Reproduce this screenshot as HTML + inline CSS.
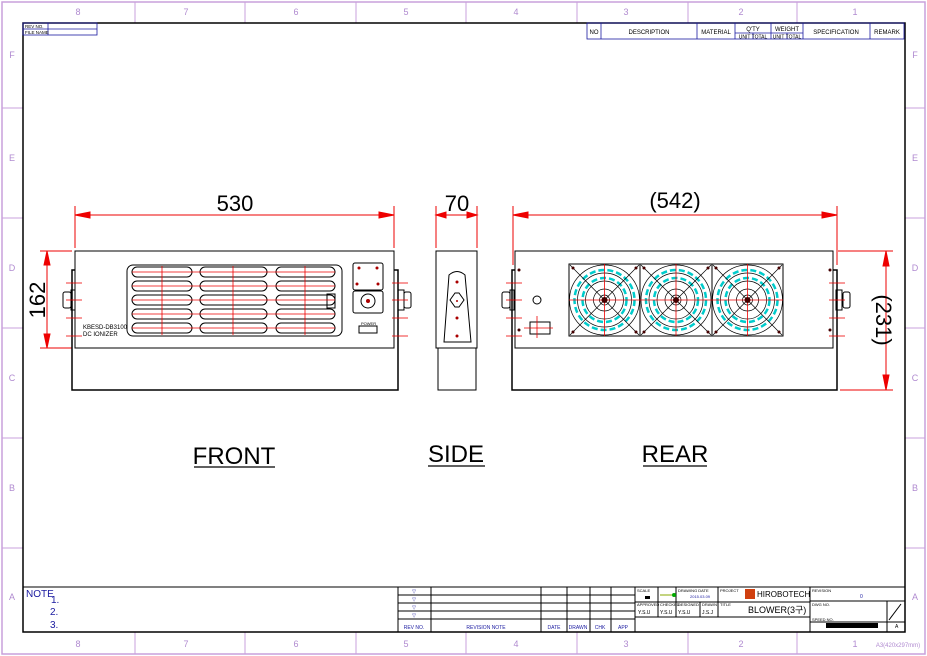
<!DOCTYPE html>
<html><head><meta charset="utf-8"><style>
body{margin:0;background:#fff}
svg{display:block;font-family:"Liberation Sans",sans-serif}
</style></head><body>
<svg width="927" height="656" viewBox="0 0 927 656" xmlns="http://www.w3.org/2000/svg">
<rect x="0" y="0" width="927" height="656" fill="#fff"/>
<!-- outer border -->
<rect x="2" y="2" width="923" height="652" fill="none" stroke="#c9a0dc" stroke-width="1.5"/>
<g stroke="#c9a0dc" stroke-width="1">
<line x1="135" y1="2" x2="135" y2="23"/><line x1="245" y1="2" x2="245" y2="23"/><line x1="356" y1="2" x2="356" y2="23"/><line x1="466" y1="2" x2="466" y2="23"/><line x1="577" y1="2" x2="577" y2="23"/><line x1="688" y1="2" x2="688" y2="23"/><line x1="797" y1="2" x2="797" y2="23"/>
<line x1="135" y1="632" x2="135" y2="654"/><line x1="245" y1="632" x2="245" y2="654"/><line x1="356" y1="632" x2="356" y2="654"/><line x1="466" y1="632" x2="466" y2="654"/><line x1="577" y1="632" x2="577" y2="654"/><line x1="688" y1="632" x2="688" y2="654"/><line x1="797" y1="632" x2="797" y2="654"/>
<line x1="2" y1="108" x2="23" y2="108"/><line x1="2" y1="218" x2="23" y2="218"/><line x1="2" y1="328" x2="23" y2="328"/><line x1="2" y1="438" x2="23" y2="438"/><line x1="2" y1="548" x2="23" y2="548"/>
<line x1="905" y1="108" x2="925" y2="108"/><line x1="905" y1="218" x2="925" y2="218"/><line x1="905" y1="328" x2="925" y2="328"/><line x1="905" y1="438" x2="925" y2="438"/><line x1="905" y1="548" x2="925" y2="548"/>
</g>
<g fill="#b08ad0" font-size="9" text-anchor="middle">
<text x="78" y="15">8</text><text x="186" y="15">7</text><text x="296" y="15">6</text><text x="406" y="15">5</text><text x="516" y="15">4</text><text x="626" y="15">3</text><text x="741" y="15">2</text><text x="855" y="15">1</text>
<text x="78" y="647">8</text><text x="186" y="647">7</text><text x="296" y="647">6</text><text x="406" y="647">5</text><text x="516" y="647">4</text><text x="626" y="647">3</text><text x="741" y="647">2</text><text x="855" y="647">1</text>
<text x="12" y="58">F</text><text x="12" y="161">E</text><text x="12" y="271">D</text><text x="12" y="381">C</text><text x="12" y="491">B</text><text x="12" y="600">A</text>
<text x="915" y="58">F</text><text x="915" y="161">E</text><text x="915" y="271">D</text><text x="915" y="381">C</text><text x="915" y="491">B</text><text x="915" y="600">A</text>
<text x="898" y="647" font-size="6">A3(420x297mm)</text>
</g>
<!-- inner frame -->
<rect x="23" y="23" width="882" height="609" fill="none" stroke="#000" stroke-width="1.5"/>
<!-- top-left box -->
<g stroke="#1a1aa0" stroke-width="0.8" fill="none">
<rect x="23" y="23" width="74" height="12"/><line x1="23" y1="29" x2="97" y2="29"/><line x1="48" y1="23" x2="48" y2="35"/>
</g>
<g font-size="4.5" fill="#000"><text x="25" y="28">REV NO.</text><text x="25" y="34">FILE NAME</text></g>
<!-- top-right title -->
<g stroke="#1a1aa0" stroke-width="0.8" fill="none">
<rect x="587" y="23" width="317" height="16"/>
<line x1="601" y1="23" x2="601" y2="39"/><line x1="697" y1="23" x2="697" y2="39"/><line x1="735" y1="23" x2="735" y2="39"/><line x1="771" y1="23" x2="771" y2="39"/><line x1="803" y1="23" x2="803" y2="39"/><line x1="870" y1="23" x2="870" y2="39"/>
<line x1="735" y1="33" x2="803" y2="33"/><line x1="753" y1="33" x2="753" y2="39"/><line x1="787" y1="33" x2="787" y2="39"/>
</g>
<g font-size="6" fill="#000" text-anchor="middle">
<text x="594" y="34">NO</text><text x="649" y="34">DESCRIPTION</text><text x="716" y="34">MATERIAL</text><text x="753" y="31">Q'TY</text><text x="787" y="31">WEIGHT</text><text x="836" y="34">SPECIFICATION</text><text x="887" y="34">REMARK</text>
<text x="753" y="38.5" font-size="5">UNIT TOTAL</text><text x="787" y="38.5" font-size="5">UNIT TOTAL</text>
</g>

<!-- dimensions -->
<g stroke="#e00" stroke-width="1" fill="#e00">
<line x1="75" y1="206" x2="75" y2="248"/><line x1="394" y1="206" x2="394" y2="248"/>
<line x1="75" y1="215" x2="394" y2="215"/><polygon points="75,215 90,212 90,218"/><polygon points="394,215 379,212 379,218"/>
<line x1="436" y1="206" x2="436" y2="248"/><line x1="477" y1="206" x2="477" y2="248"/>
<line x1="436" y1="215" x2="477" y2="215"/><polygon points="436,215 446,212 446,218"/><polygon points="477,215 467,212 467,218"/>
<line x1="513" y1="206" x2="513" y2="265"/><line x1="837" y1="206" x2="837" y2="265"/>
<line x1="513" y1="215" x2="837" y2="215"/><polygon points="513,215 528,212 528,218"/><polygon points="837,215 822,212 822,218"/>
<line x1="40" y1="251" x2="72" y2="251"/><line x1="40" y1="348" x2="72" y2="348"/>
<line x1="47" y1="251" x2="47" y2="348"/><polygon points="47,251 44,265 50,265"/><polygon points="47,348 44,334 50,334"/>
<line x1="838" y1="251" x2="893" y2="251"/><line x1="840" y1="390" x2="893" y2="390"/>
<line x1="886" y1="251" x2="886" y2="390"/><polygon points="886,251 883,266 889,266"/><polygon points="886,390 883,375 889,375"/>
</g>
<g font-size="22" fill="#000" text-anchor="middle">
<text x="235" y="211">530</text><text x="457" y="211">70</text><text x="675" y="208">(542)</text>
<text transform="translate(45,300) rotate(-90)">162</text>
<text transform="translate(876,320) rotate(90)">(231)</text>
</g>

<!-- FRONT view -->
<g stroke="#000" fill="none" stroke-width="1">
<rect x="72" y="270" width="326" height="120" stroke-width="1.5"/>
<rect x="75" y="251" width="319" height="97" fill="#fff"/>
<rect x="127" y="265" width="215" height="71" rx="6"/>
<rect x="132" y="267" width="60" height="10" rx="5"/><rect x="200" y="267" width="67" height="10" rx="5"/><rect x="276" y="267" width="59" height="10" rx="5"/>
<rect x="132" y="281" width="60" height="10" rx="5"/><rect x="200" y="281" width="67" height="10" rx="5"/><rect x="276" y="281" width="59" height="10" rx="5"/>
<rect x="132" y="295" width="60" height="10" rx="5"/><rect x="200" y="295" width="67" height="10" rx="5"/><rect x="276" y="295" width="59" height="10" rx="5"/>
<rect x="132" y="309" width="60" height="10" rx="5"/><rect x="200" y="309" width="67" height="10" rx="5"/><rect x="276" y="309" width="59" height="10" rx="5"/>
<rect x="132" y="323" width="60" height="10" rx="5"/><rect x="200" y="323" width="67" height="10" rx="5"/><rect x="276" y="323" width="59" height="10" rx="5"/>
<rect x="327" y="294" width="8" height="14"/>
<rect x="353" y="263" width="30" height="27" rx="2"/><rect x="353" y="291" width="30" height="22" rx="2"/>
<circle cx="368" cy="301" r="7"/>
<rect x="359" y="326" width="18" height="7"/>
<rect x="63" y="292" width="8" height="16" rx="2"/><rect x="71" y="290" width="4" height="20"/>
<rect x="404" y="292" width="7" height="16" rx="2"/><rect x="398" y="290" width="6" height="20"/>
</g>
<g stroke="#e00" stroke-width="0.8">
<line x1="162" y1="266" x2="162" y2="335"/><line x1="233" y1="266" x2="233" y2="335"/><line x1="305" y1="266" x2="305" y2="335"/>
<line x1="132" y1="272" x2="335" y2="272"/><line x1="132" y1="286" x2="335" y2="286"/><line x1="132" y1="300" x2="335" y2="300"/><line x1="132" y1="314" x2="335" y2="314"/><line x1="132" y1="328" x2="335" y2="328"/>
<line x1="66" y1="283" x2="82" y2="283"/><line x1="66" y1="300" x2="82" y2="300"/><line x1="66" y1="318" x2="82" y2="318"/><line x1="66" y1="336" x2="82" y2="336"/>
<line x1="392" y1="283" x2="408" y2="283"/><line x1="392" y1="300" x2="408" y2="300"/><line x1="392" y1="318" x2="408" y2="318"/><line x1="392" y1="336" x2="408" y2="336"/>
</g>
<g fill="#a00"><circle cx="359" cy="268" r="1.5"/><circle cx="377" cy="268" r="1.5"/><circle cx="357" cy="284" r="1.5"/><circle cx="378" cy="284" r="1.5"/><circle cx="368" cy="301" r="2"/></g>
<g font-size="6" fill="#000"><text x="83" y="329">KBESD-DB3100</text><text x="83" y="336">DC IONIZER</text><text x="361" y="325" font-size="4">POWER</text></g>

<!-- SIDE view -->
<g stroke="#000" fill="none" stroke-width="1">
<rect x="438" y="270" width="38" height="120"/>
<rect x="436" y="251" width="41" height="97" fill="#fff"/>
<path d="M444,342 L449,275 Q457,268 465,275 L471,342 Z"/>
<path d="M450,300 L455,293 L459,293 L464,300 L459,307 L455,307 Z"/>
</g>
<g fill="#a00"><circle cx="457" cy="282" r="1.5"/><circle cx="457" cy="318" r="1.5"/><circle cx="457" cy="336" r="1.5"/><circle cx="457" cy="301" r="1"/></g>

<!-- REAR view -->
<g stroke="#000" fill="none" stroke-width="1">
<rect x="512" y="270" width="325" height="120" stroke-width="1.5"/>
<rect x="515" y="251" width="318" height="97" fill="#fff"/>
<rect x="569" y="264" width="214" height="72"/>
<line x1="640" y1="264" x2="640" y2="336"/><line x1="712" y1="264" x2="712" y2="336"/>
<rect x="502" y="292" width="8" height="16" rx="2"/><rect x="510" y="290" width="4" height="20"/>
<rect x="843" y="292" width="7" height="16" rx="2"/><rect x="836" y="290" width="6" height="20"/>
<rect x="530" y="322" width="20" height="12"/>
<circle cx="537" cy="300" r="4"/>
</g>
<g id="fans">
<g stroke="#0cc" stroke-width="2.5" fill="none" stroke-dasharray="6 3">
<circle cx="604.5" cy="300" r="30"/><circle cx="676" cy="300" r="30"/><circle cx="747.5" cy="300" r="30"/>
<circle cx="604.5" cy="300" r="22"/><circle cx="676" cy="300" r="22"/><circle cx="747.5" cy="300" r="22"/>
</g>
<g stroke="#000" stroke-width="0.7" fill="none">
<circle cx="604.5" cy="300" r="35"/><circle cx="604.5" cy="300" r="27"/><circle cx="604.5" cy="300" r="19"/><circle cx="604.5" cy="300" r="11"/><circle cx="604.5" cy="300" r="5"/>
<circle cx="676" cy="300" r="35"/><circle cx="676" cy="300" r="27"/><circle cx="676" cy="300" r="19"/><circle cx="676" cy="300" r="11"/><circle cx="676" cy="300" r="5"/>
<circle cx="747.5" cy="300" r="35"/><circle cx="747.5" cy="300" r="27"/><circle cx="747.5" cy="300" r="19"/><circle cx="747.5" cy="300" r="11"/><circle cx="747.5" cy="300" r="5"/>
<line x1="570" y1="265" x2="639" y2="335"/><line x1="639" y1="265" x2="570" y2="335"/>
<line x1="641" y1="265" x2="711" y2="335"/><line x1="711" y1="265" x2="641" y2="335"/>
<line x1="713" y1="265" x2="782" y2="335"/><line x1="782" y1="265" x2="713" y2="335"/>
</g>
<g stroke="#e00" stroke-width="0.8">
<line x1="569" y1="300" x2="783" y2="300"/>
<line x1="604.5" y1="264" x2="604.5" y2="336"/><line x1="676" y1="264" x2="676" y2="336"/><line x1="747.5" y1="264" x2="747.5" y2="336"/>
<line x1="506" y1="283" x2="522" y2="283"/><line x1="506" y1="300" x2="522" y2="300"/><line x1="506" y1="318" x2="522" y2="318"/><line x1="506" y1="336" x2="522" y2="336"/>
<line x1="829" y1="283" x2="845" y2="283"/><line x1="829" y1="300" x2="845" y2="300"/><line x1="829" y1="318" x2="845" y2="318"/><line x1="829" y1="336" x2="845" y2="336"/>
<line x1="537" y1="316" x2="537" y2="338"/><line x1="524" y1="328" x2="553" y2="328"/>
</g>
<g fill="#400">
<circle cx="604.5" cy="300" r="3"/><circle cx="676" cy="300" r="3"/><circle cx="747.5" cy="300" r="3"/>
<circle cx="573" cy="268" r="1.5"/><circle cx="636" cy="268" r="1.5"/><circle cx="573" cy="332" r="1.5"/><circle cx="636" cy="332" r="1.5"/>
<circle cx="644" cy="268" r="1.5"/><circle cx="708" cy="268" r="1.5"/><circle cx="644" cy="332" r="1.5"/><circle cx="708" cy="332" r="1.5"/>
<circle cx="716" cy="268" r="1.5"/><circle cx="779" cy="268" r="1.5"/><circle cx="716" cy="332" r="1.5"/><circle cx="779" cy="332" r="1.5"/>
<circle cx="519" cy="270" r="1.5"/><circle cx="519" cy="330" r="1.5"/><circle cx="830" cy="270" r="1.5"/><circle cx="830" cy="330" r="1.5"/>
</g>
</g>

<!-- view labels -->
<g font-size="24" fill="#000" text-anchor="middle">
<text x="234" y="464">FRONT</text><text x="456" y="462">SIDE</text><text x="675" y="462">REAR</text>
</g>
<g stroke="#000" stroke-width="1.2">
<line x1="194" y1="467" x2="275" y2="467"/><line x1="428" y1="466" x2="485" y2="466"/><line x1="643" y1="466" x2="707" y2="466"/>
</g>

<!-- bottom title block -->
<g stroke="#000" stroke-width="1" fill="none">
<line x1="23" y1="587" x2="905" y2="587"/>
<line x1="398" y1="587" x2="398" y2="632"/><line x1="431" y1="587" x2="431" y2="632"/>
<line x1="541" y1="587" x2="541" y2="632"/><line x1="567" y1="587" x2="567" y2="632"/><line x1="590" y1="587" x2="590" y2="632"/><line x1="611" y1="587" x2="611" y2="632"/><line x1="635" y1="587" x2="635" y2="632"/>
<line x1="398" y1="595" x2="635" y2="595"/><line x1="398" y1="603" x2="635" y2="603"/><line x1="398" y1="611" x2="635" y2="611"/><line x1="398" y1="619" x2="635" y2="619"/>
<line x1="635" y1="602" x2="810" y2="602"/><line x1="635" y1="617" x2="810" y2="617"/>
<line x1="810" y1="587" x2="810" y2="632"/><line x1="810" y1="601" x2="905" y2="601"/><line x1="810" y1="622" x2="905" y2="622"/>
<line x1="887" y1="601" x2="887" y2="632"/>
<line x1="658" y1="587" x2="658" y2="617"/><line x1="676" y1="587" x2="676" y2="617"/><line x1="700" y1="602" x2="700" y2="617"/><line x1="718" y1="587" x2="718" y2="617"/>
<line x1="889" y1="620" x2="901" y2="604"/>
</g>
<rect x="826" y="623" width="52" height="5" fill="#000"/>
<g fill="#1a1aa0" font-size="10">
<text x="26" y="597">NOTE</text><text x="51" y="603">1.</text><text x="50" y="615">2.</text><text x="50" y="628">3.</text>
</g>
<g fill="#1a1aa0" font-size="5" text-anchor="middle">
<text x="414" y="593">▽</text><text x="414" y="601">▽</text><text x="414" y="609">▽</text><text x="414" y="617">▽</text>
<text x="414" y="629">REV NO.</text><text x="486" y="629">REVISION NOTE</text><text x="554" y="629">DATE</text><text x="578" y="629">DRAWN</text><text x="600" y="629">CHK</text><text x="623" y="629">APP</text>
</g>
<g fill="#000" font-size="4" >
<text x="637" y="592">SCALE</text><text x="678" y="592">DRAWING DATE</text><text x="720" y="592">PROJECT</text><text x="812" y="592">REVISION</text>
<text x="637" y="606">APPROVED</text><text x="660" y="606">CHECKED</text><text x="678" y="606">DESIGNED</text><text x="702" y="606">DRAWN</text><text x="720" y="606">TITLE</text><text x="812" y="606">DWG NO.</text><text x="812" y="621">SPEED NO.</text>
<text x="638" y="614" font-size="5">Y.S.U</text><text x="660" y="614" font-size="5">Y.S.U</text><text x="678" y="614" font-size="5">Y.S.U</text><text x="702" y="614" font-size="5">J.S.J</text>
<text x="690" y="598" fill="#1a1aa0">2015.03.09</text>
</g>
<rect x="645" y="596" width="5" height="3" fill="#000"/>
<line x1="660" y1="595" x2="672" y2="595" stroke="#8a0" stroke-width="1"/><circle cx="674" cy="595" r="2" fill="#0a0"/>
<rect x="745" y="589" width="10" height="10" fill="#d04010"/>
<text x="757" y="597" font-size="8" fill="#000">HIROBOTECH</text>
<text x="748" y="613" font-size="9" fill="#000">BLOWER(3구)</text>
<text x="860" y="598" font-size="5" fill="#1a1aa0">0</text>
<text x="895" y="628" font-size="5" fill="#000">A</text>
</svg>
</body></html>
